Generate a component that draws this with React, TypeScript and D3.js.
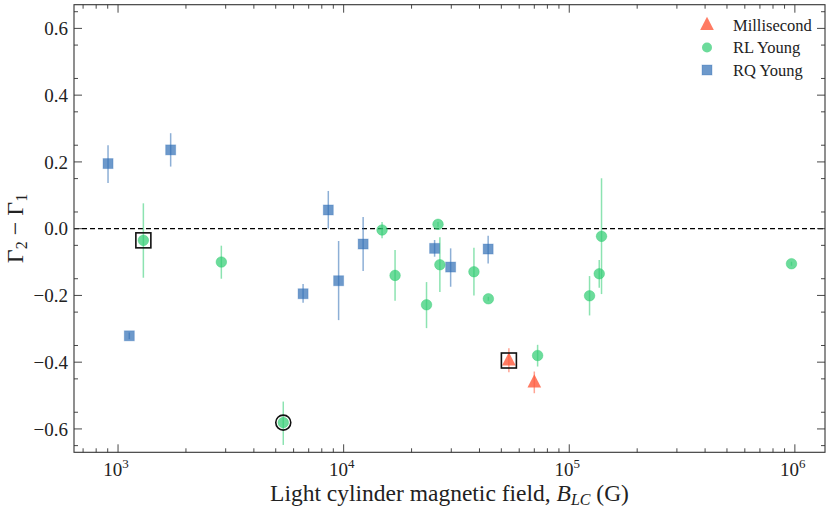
import React from 'react';
import * as d3 from 'd3';

// Light cylinder field B_LC (G) and Gamma2 - Gamma1 with error bars
const msB = [54000, 70000];
const msD = [-0.395, -0.461];
const msLo = [0.035, 0.032];
const msHi = [0.037, 0.033];

const rlB = [1295, 2870, 5400, 14800, 16900, 23300, 26200, 26700, 37800, 43800, 72400, 123000, 135800, 139000, 966000];
const rlD = [-0.035, -0.1, -0.581, -0.004, -0.14, -0.228, 0.013, -0.108, -0.129, -0.21, -0.38, -0.201, -0.135, -0.023, -0.105];
const rlLo = [0.112, 0.05, 0.067, 0.025, 0.076, 0.07, 0.007, 0.082, 0.071, 0.006, 0.033, 0.059, 0.042, 0.173, 0.006];
const rlHi = [0.111, 0.049, 0.063, 0.024, 0.076, 0.068, 0.007, 0.082, 0.072, 0.006, 0.032, 0.059, 0.041, 0.174, 0.006];

const rqB = [903, 1122, 1711, 6610, 8550, 9500, 12200, 25300, 29800, 43700];
const rqD = [0.195, -0.321, 0.236, -0.195, 0.056, -0.156, -0.046, -0.059, -0.115, -0.061];
const rqLo = [0.058, 0.01, 0.05, 0.027, 0.056, 0.118, 0.081, 0.025, 0.059, 0.043];
const rqHi = [0.055, 0.01, 0.05, 0.029, 0.057, 0.119, 0.081, 0.025, 0.056, 0.04];

// highlighted sources
const boxedB = [1295, 54000];
const boxedD = [-0.035, -0.395];
const circledB = [5400];
const circledD = [-0.581];

const yTicks = [-0.6, -0.4, -0.2, 0.0, 0.2, 0.4, 0.6];
const xTicks = [1e3, 1e4, 1e5, 1e6];
const legendLabels = ['Millisecond', 'RL Young', 'RQ Young'];

const W = 831, H = 508;
const margin = { top: 4.7, right: 6, bottom: 55.7, left: 74 };
const FONT = '"Liberation Serif", "DejaVu Serif", serif';

const RED = '#ff5a3c';
const GREEN = '#2ecc71';
const BLUE = '#2f6db5';

const App = () => {
  const x = d3.scaleLog().domain([638, 1.36e6]).range([margin.left, W - margin.right]);
  const y = d3.scaleLinear().domain([-0.67, 0.671]).range([H - margin.bottom, margin.top]);
  const x0 = margin.left, x1 = W - margin.right, y0 = H - margin.bottom, y1 = margin.top;

  const minorX: number[] = [];
  for (let e = 2; e <= 6; e++) {
    for (let m = 2; m <= 9; m++) {
      const v = m * Math.pow(10, e);
      if (v > 638 && v < 1.36e6) minorX.push(v);
    }
  }
  const minorY = d3.range(-0.65, 0.66, 0.05).map(v => Math.round(v * 100) / 100)
    .filter(v => Math.abs(Math.round(v * 10) - v * 10) > 1e-6);

  const fmt = (v: number) => (v < 0 ? '\u2212' : '') + Math.abs(v).toFixed(1);

  const errBars = (B: number[], D: number[], lo: number[], hi: number[], color: string) =>
    B.map((b, i) => (
      <line key={i} x1={x(b)} x2={x(b)} y1={y(D[i] - lo[i])} y2={y(D[i] + hi[i])}
        stroke={color} strokeOpacity={0.55} strokeWidth={1.5} />
    ));

  const tri = (cx: number, cy: number, s: number) =>
    `M${cx},${cy - s * 0.75} L${cx + s * 0.62},${cy + s * 0.45} L${cx - s * 0.62},${cy + s * 0.45} Z`;

  return (
    <svg width={W} height={H} style={{ position: 'absolute', left: 0, top: 0, background: '#fff' }}
      fontFamily={FONT}>
      <rect x={0} y={0} width={W} height={H} fill="#fff" />

      {/* zero line */}
      <line x1={x0} x2={x1} y1={y(0)} y2={y(0)} stroke="#000" strokeWidth={1.3} strokeDasharray="5,3" />

      {/* error bars */}
      <g>{errBars(rqB, rqD, rqLo, rqHi, BLUE)}</g>
      <g>{errBars(rlB, rlD, rlLo, rlHi, GREEN)}</g>
      <g>{errBars(msB, msD, msLo, msHi, RED)}</g>

      {/* markers */}
      <g>
        {rqB.map((b, i) => (
          <rect key={i} x={x(b) - 5} y={y(rqD[i]) - 5} width={10} height={10}
            fill={BLUE} fillOpacity={0.7} stroke={BLUE} strokeOpacity={0.3} strokeWidth={1} />
        ))}
      </g>
      <g>
        {rlB.map((b, i) => (
          <circle key={i} cx={x(b)} cy={y(rlD[i])} r={5.3}
            fill={GREEN} fillOpacity={0.7} stroke={GREEN} strokeOpacity={0.4} strokeWidth={1} />
        ))}
      </g>
      <g>
        {msB.map((b, i) => (
          <path key={i} d={tri(x(b), y(msD[i]), 11)} fill={RED} fillOpacity={0.8} />
        ))}
      </g>

      {/* highlights */}
      {boxedB.map((b, i) => (
        <rect key={i} x={x(b) - 7.5} y={y(boxedD[i]) - 7.5} width={15} height={15}
          fill="none" stroke="#111" strokeWidth={1.6} />
      ))}
      {circledB.map((b, i) => (
        <circle key={i} cx={x(b)} cy={y(circledD[i])} r={7.5} fill="none" stroke="#111" strokeWidth={1.6} />
      ))}

      {/* frame */}
      <rect x={x0} y={y1} width={x1 - x0} height={y0 - y1} fill="none" stroke="#333" strokeWidth={1.1} />

      {/* ticks, inward on all four sides */}
      <g stroke="#333" strokeWidth={0.9}>
        {xTicks.map(t => (
          <g key={t}>
            <line x1={x(t)} x2={x(t)} y1={y0} y2={y0 - 8} />
            <line x1={x(t)} x2={x(t)} y1={y1} y2={y1 + 8} />
          </g>
        ))}
        {minorX.map(t => (
          <g key={t}>
            <line x1={x(t)} x2={x(t)} y1={y0} y2={y0 - 4} />
            <line x1={x(t)} x2={x(t)} y1={y1} y2={y1 + 4} />
          </g>
        ))}
        {yTicks.map(t => (
          <g key={t}>
            <line x1={x0} x2={x0 + 8} y1={y(t)} y2={y(t)} />
            <line x1={x1} x2={x1 - 8} y1={y(t)} y2={y(t)} />
          </g>
        ))}
        {minorY.map(t => (
          <g key={t}>
            <line x1={x0} x2={x0 + 4} y1={y(t)} y2={y(t)} />
            <line x1={x1} x2={x1 - 4} y1={y(t)} y2={y(t)} />
          </g>
        ))}
      </g>

      {/* tick labels */}
      <g fontSize={19} fill="#222">
        {yTicks.map(t => (
          <text key={t} x={x0 - 6} y={y(t)} dy="0.35em" textAnchor="end">{fmt(t)}</text>
        ))}
        {xTicks.map(t => (
          <text key={t} x={x(t) - 2} y={y0 + 24} textAnchor="middle">
            10<tspan fontSize={13} dy={-8}>{Math.round(Math.log10(t))}</tspan>
          </text>
        ))}
      </g>

      {/* axis labels */}
      <text x={(x0 + x1) / 2} y={H - 7} textAnchor="middle" fontSize={23.5} fill="#222">
        Light cylinder magnetic field, <tspan fontStyle="italic">B</tspan>
        <tspan fontStyle="italic" fontSize={16} dy={4}>LC</tspan>
        <tspan dy={-4}> (G)</tspan>
      </text>
      <text transform={`translate(23,${(y0 + y1) / 2}) rotate(-90)`} textAnchor="middle" fontSize={24} fill="#222">
        Γ<tspan fontSize={16} dy={4}>2</tspan><tspan dy={-4}> − Γ</tspan><tspan fontSize={16} dy={4}>1</tspan>
      </text>

      {/* legend */}
      <g fontSize={16.5} fill="#222">
        {legendLabels.map((lab, i) => {
          const ly = 25 + i * 22.5;
          const mx = 707;
          return (
            <g key={lab}>
              {i === 0 && <path d={tri(mx, ly, 11)} fill={RED} fillOpacity={0.8} />}
              {i === 1 && <circle cx={mx} cy={ly} r={5} fill={GREEN} fillOpacity={0.7} />}
              {i === 2 && <rect x={mx - 5} y={ly - 5} width={10} height={10} fill={BLUE} fillOpacity={0.7}
                stroke={BLUE} strokeOpacity={0.3} />}
              <text x={733} y={ly} dy="0.35em">{lab}</text>
            </g>
          );
        })}
      </g>
    </svg>
  );
};

export default App;
